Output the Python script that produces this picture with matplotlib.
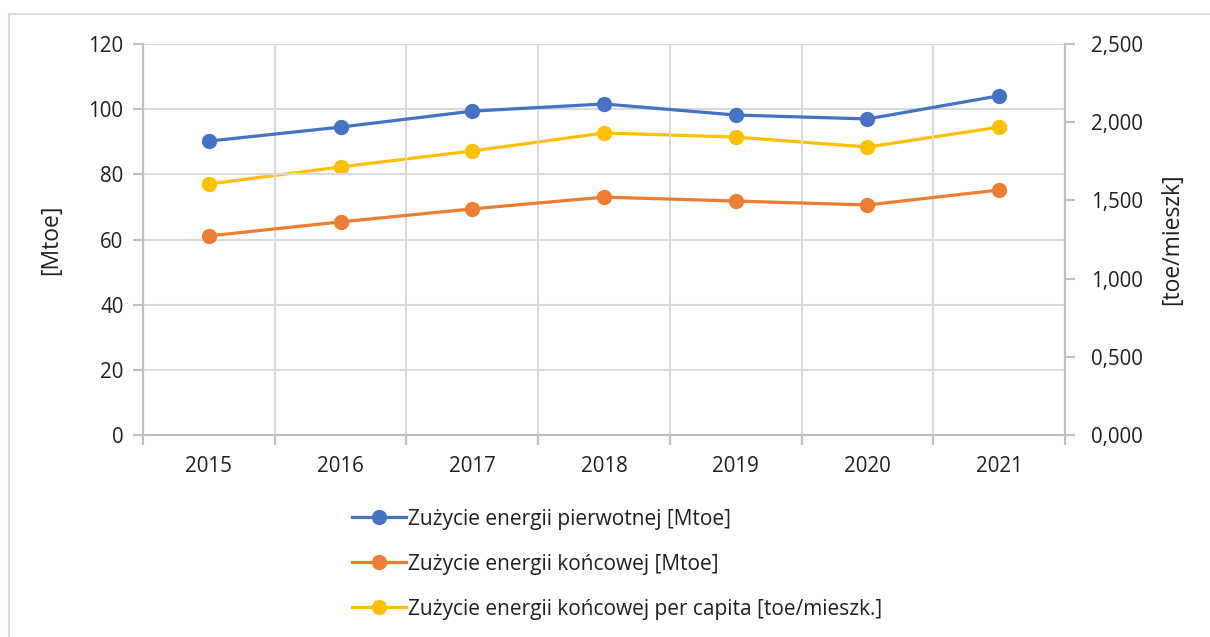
import matplotlib.pyplot as plt
from matplotlib.ticker import FuncFormatter, FixedLocator
from matplotlib.patches import Rectangle

plt.rcParams["font.family"] = ["Open Sans", "DejaVu Sans"]

years = ["2015", "2016", "2017", "2018", "2019", "2020", "2021"]
primary_mtoe = [90.2, 94.5, 99.4, 101.6, 98.2, 97.0, 104.1]
final_mtoe = [61.1, 65.4, 69.4, 73.0, 71.8, 70.6, 75.2]
final_per_capita = [1.605, 1.714, 1.816, 1.931, 1.905, 1.841, 1.969]

labels = [
    "Zużycie energii pierwotnej [Mtoe]",
    "Zużycie energii końcowej [Mtoe]",
    "Zużycie energii końcowej per capita [toe/mieszk.]",
]
colors = ["#4472C4", "#ED7D31", "#FFC000"]
grid_color = "#d9d9d9"
text_color = "#1f1f1f"
tick_size = 14.8

fig = plt.figure(figsize=(12.1, 6.37), dpi=100)
fig.patches.append(Rectangle((9 / 1210, -0.1), 1.2, 1 - 14 / 637 + 0.1,
                             transform=fig.transFigure, fill=False,
                             edgecolor="#d9d9d9", linewidth=1.5))

ax = fig.add_axes([143 / 1210, 1 - 435 / 637, 922 / 1210, 391 / 637])
ax2 = ax.twinx()

x = list(range(len(years)))
line_kw = dict(linewidth=2.3, marker="o", markersize=10)
h1, = ax.plot(x, primary_mtoe, color=colors[0], label=labels[0], **line_kw)
h2, = ax.plot(x, final_mtoe, color=colors[1], label=labels[1], **line_kw)
h3, = ax2.plot(x, final_per_capita, color=colors[2], label=labels[2], **line_kw)
ax.set_zorder(ax2.get_zorder() + 1)
ax.patch.set_visible(False)

ax.set_xlim(-0.5, len(years) - 0.5)
ax.set_ylim(0, 120)
ax2.set_ylim(0, 2.5)
ax.set_yticks(range(0, 121, 20))
ax2.set_yticks([0, 0.5, 1.0, 1.5, 2.0, 2.5])
ax2.yaxis.set_major_formatter(FuncFormatter(lambda v, p: f"{v:.3f}".replace(".", ",")))

# category labels centred, ticks and grid at category boundaries
ax.set_xticks(x)
ax.set_xticklabels(years)
ax.xaxis.set_minor_locator(FixedLocator([i - 0.5 for i in range(len(years) + 1)]))
ax.tick_params(axis="x", which="major", length=0, pad=15, labelsize=tick_size, labelcolor=text_color)
ax.tick_params(axis="x", which="minor", length=7, width=1.5, color="#bfbfbf", direction="out")
ax.grid(True, axis="x", which="minor", color=grid_color, linewidth=1.5)
ax.grid(True, axis="y", which="major", color=grid_color, linewidth=1.5)
ax.set_axisbelow(True)

ax.tick_params(axis="y", length=7, width=1.5, color="#bfbfbf", pad=7, labelsize=tick_size, labelcolor=text_color)
ax2.tick_params(axis="y", length=7, width=1.5, color="#bfbfbf", pad=12, labelsize=tick_size, labelcolor=text_color)

for a in (ax, ax2):
    a.spines["top"].set_visible(False)
    for side in ("left", "right", "bottom"):
        a.spines[side].set_color("#bfbfbf")
        a.spines[side].set_linewidth(1.5)

ax.set_ylabel("[Mtoe]", fontsize=16.5, color=text_color, labelpad=18)
ax2.set_ylabel("[toe/mieszk]", fontsize=16.5, color=text_color, labelpad=12)

fig.legend(handles=[h1, h2, h3], loc="upper left", bbox_to_anchor=(333 / 1210, 1 - 490 / 637),
           frameon=False, fontsize=15, labelspacing=1.15, handlelength=2.6,
           handletextpad=0.1, labelcolor=text_color)

fig.savefig("out.png", dpi=100)
